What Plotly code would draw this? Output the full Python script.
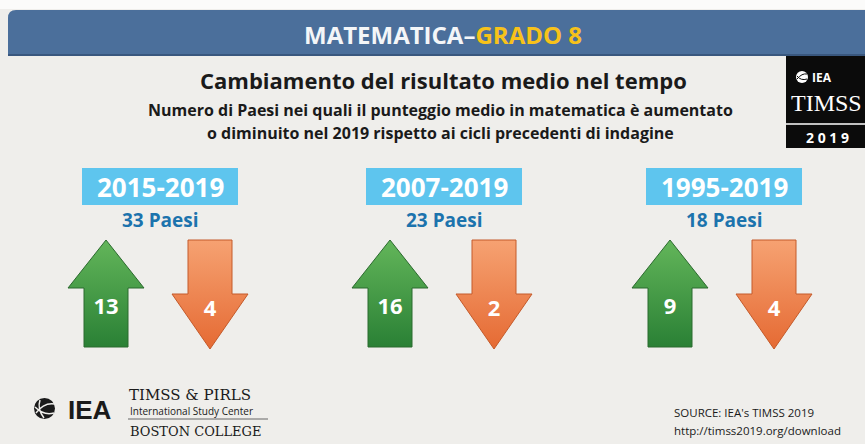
import plotly.graph_objects as go

# data read from the infographic
periods = ["2015-2019", "2007-2019", "1995-2019"]
n_countries = [33, 23, 18]
increased = [13, 16, 9]
decreased = [4, 2, 4]

header_left = "MATEMATICA–"
header_right = "GRADO 8"
title = "Cambiamento del risultato medio nel tempo"
subtitle = ["Numero di Paesi nei quali il punteggio medio in matematica è aumentato",
            "o diminuito nel 2019 rispetto ai cicli precedenti di indagine"]
source = ["SOURCE: IEA's TIMSS 2019", "http://timss2019.org/download"]

W, H = 865, 444
BG = "#efeeeb"
FONT = "Open Sans"
GROUP_X = [158, 442, 722]


def arrow_outline(cx, up):
    """Fixed-size arrow icon around centre cx (same glyph for every count)."""
    sh, hh = 22, 38
    if up:
        top, neck, bottom = 240, 288, 347
        xs = [cx, cx + hh, cx + sh, cx + sh, cx - sh, cx - sh, cx - hh, cx]
        ys = [top, neck, neck, bottom, bottom, neck, neck, top]
    else:
        top, neck, tip = 240, 294, 349
        xs = [cx - sh, cx + sh, cx + sh, cx + hh, cx, cx - hh, cx - sh, cx - sh]
        ys = [top, top, neck, neck, tip, neck, neck, top]
    return xs, ys


fig = go.Figure()
shapes = []
annotations = []

# header bar
shapes.append(dict(type="rect", x0=0, x1=W, y0=0, y1=9, fillcolor="#fbfbfa", line_width=0, layer="below"))
shapes.append(dict(type="path", path="M 8,55 L 8,18 Q 8,10 16,10 L 865,10 L 865,55 Z",
                   fillcolor="#4b6f9b", line_width=0, layer="below"))
shapes.append(dict(type="line", x0=8, x1=W, y0=55, y1=55, line=dict(color="#39577e", width=2)))
annotations.append(dict(x=443, y=34, text=f"<b>{header_left}<span style='color:#f7c21a'>{header_right}</span></b>",
                        font=dict(family=FONT, size=24, color="#f4f6f8"), showarrow=False))

# titles
annotations.append(dict(x=443, y=80, text=f"<b>{title}</b>", showarrow=False,
                        font=dict(family=FONT, size=22, color="#1a1a1a")))
for i, line in enumerate(subtitle):
    annotations.append(dict(x=440, y=110 + i * 23, text=f"<b>{line}</b>", showarrow=False,
                            font=dict(family=FONT, size=16, color="#1a1a1a")))

# TIMSS 2019 logo block
shapes.append(dict(type="rect", x0=786, x1=W + 2, y0=56, y1=148, fillcolor="#0b0b0b", line_width=0))
shapes.append(dict(type="line", x0=786, x1=W, y0=124, y1=124, line=dict(color="white", width=1.5)))
shapes.append(dict(type="circle", x0=796, x1=808, y0=71, y1=83, fillcolor="white", line_width=0))
shapes.append(dict(type="path", path="M 797,79 Q 802,73 807,74 M 797,76 Q 801,81 807,79",
                   line=dict(color="#0b0b0b", width=1)))
annotations.append(dict(x=810, y=77, text="<b>IEA</b>", xanchor="left", showarrow=False,
                        font=dict(family=FONT, size=12, color="white")))
annotations.append(dict(x=826, y=103, text="TIMSS", showarrow=False,
                        font=dict(family="Liberation Serif", size=24, color="white")))
annotations.append(dict(x=827, y=137, text="<b>2 0 1 9</b>", showarrow=False,
                        font=dict(family=FONT, size=14, color="white")))

# period groups
for i, cx in enumerate(GROUP_X):
    shapes.append(dict(type="rect", x0=cx - 76, x1=cx + 80, y0=168, y1=205,
                       fillcolor="#5ec5ee", line_width=0, layer="below"))
    annotations.append(dict(x=cx + 2, y=187, text=f"<b>{periods[i]}</b>", showarrow=False,
                            font=dict(family=FONT, size=26, color="white")))
    annotations.append(dict(x=cx + 2, y=220, text=f"<b>{n_countries[i]} Paesi</b>", showarrow=False,
                            font=dict(family=FONT, size=19, color="#1c73ad")))

    gx, gy = arrow_outline(cx - 52, up=True)
    fig.add_trace(go.Scatter(x=gx, y=gy, mode="lines", fill="toself",
                             fillgradient=dict(type="vertical", start=240, stop=347,
                                               colorscale=[[0, "#63b65a"], [1, "#2a8035"]]),
                             line=dict(color="#2b6a2e", width=1), hoverinfo="skip", showlegend=False))
    ox, oy = arrow_outline(cx + 52, up=False)
    fig.add_trace(go.Scatter(x=ox, y=oy, mode="lines", fill="toself",
                             fillgradient=dict(type="vertical", start=240, stop=349,
                                               colorscale=[[0, "#f6a272"], [1, "#e56a33"]]),
                             line=dict(color="#c45a2a", width=1), hoverinfo="skip", showlegend=False))

fig.add_trace(go.Scatter(x=[cx - 52 for cx in GROUP_X], y=[308] * 3, mode="text",
                         text=[f"<b>{v}</b>" for v in increased],
                         textfont=dict(family=FONT, size=22, color="white"),
                         hoverinfo="skip", showlegend=False))
fig.add_trace(go.Scatter(x=[cx + 52 for cx in GROUP_X], y=[310] * 3, mode="text",
                         text=[f"<b>{v}</b>" for v in decreased],
                         textfont=dict(family=FONT, size=22, color="white"),
                         hoverinfo="skip", showlegend=False))

# footer: IEA / TIMSS & PIRLS logo
shapes.append(dict(type="circle", x0=34, x1=55, y0=398, y1=419, fillcolor="#1a1a1a", line_width=0))
shapes.append(dict(type="path", path="M 36,413 Q 44,402 55,404 M 35,407 Q 44,416 54,413 M 40,400 Q 37,409 44,418",
                   line=dict(color=BG, width=1.5)))
annotations.append(dict(x=66, y=410, text="<b>IEA</b>", xanchor="left", showarrow=False,
                        font=dict(family="Liberation Sans", size=26, color="#1a1a1a")))
annotations.append(dict(x=127, y=395, text="TIMSS &amp; PIRLS", xanchor="left", showarrow=False,
                        font=dict(family="DejaVu Serif", size=15, color="#1a1a1a")))
annotations.append(dict(x=128, y=411, text="International Study Center", xanchor="left", showarrow=False,
                        font=dict(family=FONT, size=10, color="#1a1a1a")))
shapes.append(dict(type="line", x0=128, x1=268, y0=419, y1=419, line=dict(color="#666666", width=1)))
annotations.append(dict(x=128, y=431, text="BOSTON COLLEGE", xanchor="left", showarrow=False,
                        font=dict(family="DejaVu Serif", size=13, color="#1a1a1a")))

# source
for i, line in enumerate(source):
    annotations.append(dict(x=672, y=412 + i * 18, text=line, xanchor="left", showarrow=False,
                            font=dict(family=FONT, size=11.5, color="#1a1a1a")))

fig.update_layout(
    width=W, height=H,
    margin=dict(l=0, r=0, t=0, b=0),
    paper_bgcolor=BG, plot_bgcolor=BG,
    xaxis=dict(range=[0, W], visible=False, fixedrange=True),
    yaxis=dict(range=[H, 0], visible=False, fixedrange=True),
    shapes=shapes, annotations=annotations,
    showlegend=False,
)

fig.write_html("out.html", config={"displayModeBar": False},
               post_script="document.body.style.margin = '0';")
